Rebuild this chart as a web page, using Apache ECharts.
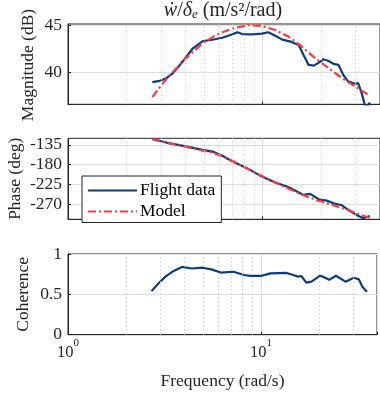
<!DOCTYPE html>
<html>
<head>
<meta charset="utf-8">
<script src="https://cdn.jsdelivr.net/npm/echarts@6/dist/echarts.min.js"></script>
<style>html,body{margin:0;padding:0;background:#fff}#c{width:380px;height:396px}</style>
</head>
<body>
<div id="c"></div>
<script>
// ---- data ----
const magFreq    = [2.71,2.96,3.2,3.46,3.82,4.38,4.92,5.42,6.2,7.0,7.4,7.85,8.82,9.9,10.65,11.4,12.6,13.9,15.3,16.2,17.2,18.3,19.4,20.5,21.8,23.1,24.5,25.9,27.5,29.8,30.9,32.2,33.6,34.6,35.5];
const magFlight  = [38.93,39.07,39.36,39.9,40.96,42.57,43.35,43.46,43.7,44.07,44.3,44.1,44.07,44.14,44.29,44.0,43.5,43.28,42.93,41.85,40.78,40.71,41.03,41.39,41.21,40.89,40.78,39.71,38.99,38.75,38.82,37.75,36.3,36.35,36.75];
const modelFreq  = [2.71,3.07,3.6,4.2,4.92,5.75,7.0,8.5,9.9,11.6,13.6,15.9,18.6,21.8,25.5,29.8,35.5];
const magModel   = [37.32,38.82,40.43,41.85,43.1,44.0,44.71,45.07,44.96,44.53,43.8,42.74,41.5,40.43,39.36,38.46,37.46];
const phaseFreq  = [2.71,3.2,3.9,4.92,5.53,6.2,7.0,8.2,9.9,11.6,13.6,16.2,17.5,19.4,21.3,23.1,25.5,27.5,30.3,32.8,35.5];
const phaseFlight= [-122,-129.7,-137.3,-146.4,-150.3,-160,-173,-187,-207.5,-221,-232,-249.4,-247,-259.3,-262.4,-268.4,-273,-283.7,-295,-302.7,-297.4];
const phModelFreq= [2.71,3.2,3.9,4.92,5.53,6.2,7.0,8.2,9.9,11.6,13.6,16.2,19.4,23.1,27.5,32.8,35.5];
const phaseModel = [-121,-130,-138,-148,-153,-161,-172,-188,-206,-221,-235,-250,-263,-273,-284,-297,-302];
const cohFreq    = [2.71,2.96,3.2,3.53,3.9,4.38,5.0,5.53,6.2,7.2,8.2,8.82,10.1,11.2,13.6,14.7,15.6,16.2,17.2,18.3,20.2,20.9,22.6,24.5,27.5,30.3,32.2,33.6,35.5];
const coherence  = [0.54,0.64,0.72,0.79,0.84,0.82,0.83,0.81,0.77,0.78,0.74,0.73,0.73,0.76,0.765,0.74,0.72,0.727,0.645,0.657,0.73,0.72,0.68,0.73,0.657,0.706,0.686,0.595,0.533];
const minorGrid  = [2,3,4,5,6,7,8,9,20,30];
const magTicks   = [40,45];
const phaseTicks = [-270,-225,-180,-135];
const cohTicks   = [0,0.5,1];
const seriesNames= ['Flight data','Model'];
const yNames     = ['Magnitude (dB)','Phase (deg)','Coherence'];

const FONT = 'Liberation Serif, Times New Roman, DejaVu Serif, serif';
const NAVY = '#0c3b80';
const RED = '#ff3a3a';
const AX = '#262626';
const pair = (xs, ys) => xs.map((x, i) => [x, ys[i]]);

const grids = [
  {left: 68, top: 24, width: 314, height: 80.3},
  {left: 68, top: 138.3, width: 314, height: 81},
  {left: 68, top: 254, width: 314, height: 80.7}
].map(g => Object.assign({show: true, borderColor: AX, borderWidth: 1, containLabel: false}, g));

function xAx(i, showLabel) {
  return {
    type: 'log', logBase: 10, min: 1, max: 40, gridIndex: i,
    axisLine: {lineStyle: {color: AX}},
    axisTick: {inside: true, length: 3, lineStyle: {color: AX}},
    splitLine: {show: true, lineStyle: {color: '#dedede', width: 1}},
    axisLabel: showLabel ? {
      show: true, margin: 10,
      formatter: v => {
        const e = Math.log10(v);
        if (Math.abs(e - Math.round(e)) > 1e-6) return '';
        return '{b|10}{s|' + Math.round(e) + '}';
      },
      rich: {
        b: {fontFamily: FONT, fontSize: 16.5, color: AX, lineHeight: 16, verticalAlign: 'bottom'},
        s: {fontFamily: FONT, fontSize: 11, color: AX, lineHeight: 11, padding: [0, 0, 12, 0], verticalAlign: 'bottom'}
      }
    } : {show: false},
    name: showLabel ? 'Frequency (rad/s)' : '',
    nameLocation: 'middle', nameGap: 38, nameMoveOverlap: false,
    nameTextStyle: {fontFamily: FONT, fontSize: 17.5, color: AX}
  };
}
function yAx(i, min, max, ticks) {
  return {
    type: 'value', gridIndex: i, min: min, max: max,
    axisLine: {show: true, lineStyle: {color: AX}},
    axisTick: {show: true, inside: true, length: 3, customValues: ticks, lineStyle: {color: AX}},
    axisLabel: {customValues: ticks, fontFamily: FONT, fontSize: 17.5, color: AX, margin: 6},
    splitLine: {show: true, lineStyle: {color: '#dedede', width: 1}}
  };
}
const minorMark = {
  silent: true, symbol: 'none', label: {show: false},
  lineStyle: {color: '#d2d2d2', width: 1, type: [1.5, 2.5]},
  emphasis: {disabled: true},
  data: minorGrid.map(v => ({xAxis: v}))
};
function line(name, i, data, color, dash, mark) {
  const s = {
    name: name, type: 'line', xAxisIndex: i, yAxisIndex: i, data: data,
    showSymbol: false, symbol: 'none', smooth: false, clip: true,
    lineStyle: {color: color, width: 2.2, type: dash || 'solid'},
    itemStyle: {color: color}, z: 3
  };
  if (mark) s.markLine = minorMark;
  return s;
}
// rotated y-axis titles (placed like MATLAB, relative to tick-label widths)
const nameCenters = [[28.7, 65], [15.7, 178.8], [23.7, 294.3]];
const graphics = yNames.map((t, k) => ({
  type: 'text', x: nameCenters[k][0], y: nameCenters[k][1], rotation: Math.PI / 2,
  silent: true,
  style: {text: t, font: '17.5px ' + FONT, fill: AX, align: 'center', verticalAlign: 'middle'}
}));

const chart = echarts.init(document.getElementById('c'), null, {renderer: 'canvas'});
chart.setOption({
  animation: false,
  backgroundColor: '#fff',
  title: {
    text: '{i|ẇ}{n|/}{i|δ}{sub|e}{n| (m/s²/rad)}',
    left: 223, top: 0, textAlign: 'center', padding: 0,
    textStyle: {
      fontWeight: 'normal',
      rich: {
        i: {fontFamily: FONT, fontStyle: 'italic', fontWeight: 'normal', fontSize: 20, color: AX, lineHeight: 21, verticalAlign: 'bottom'},
        n: {fontFamily: FONT, fontWeight: 'normal', fontSize: 20, color: AX, lineHeight: 21, verticalAlign: 'bottom'},
        sub: {fontFamily: FONT, fontStyle: 'italic', fontWeight: 'normal', fontSize: 13, color: AX, lineHeight: 13, verticalAlign: 'bottom'}
      }
    }
  },
  legend: {
    data: seriesNames, orient: 'vertical', left: 82, top: 176,
    backgroundColor: '#fff', borderColor: AX, borderWidth: 1, borderRadius: 0,
    padding: [4, 6, 0.5, 5], itemWidth: 49, itemHeight: 14, itemGap: 0,
    itemStyle: {opacity: 0},
    textStyle: {fontFamily: FONT, fontSize: 17.5, color: '#000', lineHeight: 21, padding: [0, 0, 0, -2]},
    z: 10
  },
  graphic: graphics,
  grid: grids,
  xAxis: [xAx(0, false), xAx(1, false), xAx(2, true)],
  yAxis: [
    yAx(0, 36.55, 45.18, magTicks),
    yAx(1, -305, -120, phaseTicks),
    yAx(2, 0, 1, cohTicks)
  ],
  series: [
    line('Flight data', 0, pair(magFreq, magFlight), NAVY, null, true),
    line('Model', 0, pair(modelFreq, magModel), RED, [8, 3, 2, 3], false),
    line('Flight data', 1, pair(phaseFreq, phaseFlight), NAVY, null, true),
    line('Model', 1, pair(phModelFreq, phaseModel), RED, [8, 3, 2, 3], false),
    line('Coherence', 2, pair(cohFreq, coherence), NAVY, null, true)
  ]
});
</script>
</body>
</html>
